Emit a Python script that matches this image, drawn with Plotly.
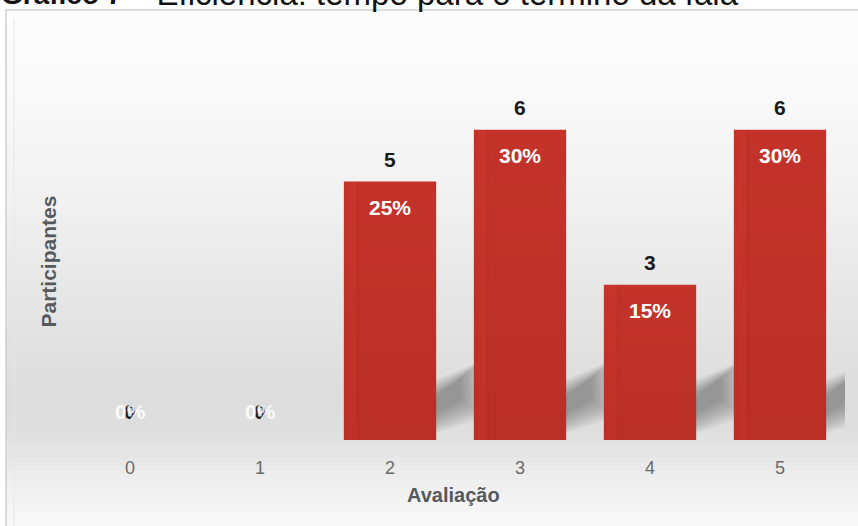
import plotly.graph_objects as go

# Avaliação (0-5) e número de participantes
avaliacao = [0, 1, 2, 3, 4, 5]
participantes = [0, 0, 5, 6, 3, 6]
percentuais = ["0%", "0%", "25%", "30%", "15%", "30%"]

W, H = 858, 526
ML, MR, MT, MB = 65, 13, 78, 86
PW, PH = W - ML - MR, H - MT - MB
Y_MAX = 7.0
BAR_W = 0.71
FONT = "Liberation Sans, Arial, sans-serif"


def px(x):
    return (x - ML) / PW


def py(y):
    return (H - MB - y) / PH


fig = go.Figure()
fig.add_trace(go.Bar(
    x=avaliacao, y=participantes, width=BAR_W,
    marker=dict(color="#c5342b", line=dict(width=0)),
    hoverinfo="skip",
))

shapes = []

# fundo em degradê do quadro
stops = [(10, 253), (100, 249), (200, 241), (300, 230), (390, 221),
         (430, 222), (470, 235), (526, 250)]
band = 4
y0 = 10
while y0 < H:
    y1 = min(y0 + band, H)
    ym = (y0 + y1) / 2
    g = stops[-1][1]
    for (a, ga), (b, gb) in zip(stops, stops[1:]):
        if a <= ym <= b:
            g = ga + (gb - ga) * (ym - a) / (b - a)
            break
    g = int(round(g))
    shapes.append(dict(type="rect", xref="paper", yref="paper", layer="below",
                       x0=px(6), x1=px(W + 2), y0=py(y1), y1=py(y0),
                       fillcolor=f"rgb({g},{g},{g})", line=dict(width=0)))
    y0 = y1

# contorno do quadro
shapes.append(dict(type="path", xref="paper", yref="paper", layer="below",
                   path=f"M {px(6)},{py(H + 2)} L {px(6)},{py(10)} L {px(W + 2)},{py(10)}",
                   line=dict(color="#cfcfcf", width=1.5)))
shapes.append(dict(type="line", xref="paper", yref="paper", layer="below",
                   x0=px(14), x1=px(14), y0=py(H), y1=py(18),
                   line=dict(color="#e6e6e6", width=1)))

# sombras projetadas atrás das barras (camadas sobrepostas para suavizar)
for x, v in zip(avaliacao, participantes):
    if v <= 0:
        continue
    xr = x + BAR_W / 2
    for k in range(12):
        s = -0.06 + k * 0.032
        path = (f"M {xr - 0.05},{0.15 + s} L {xr - 0.05},{1.05 - s} "
                f"L {xr + 0.34 - s * 0.5},{1.50 - s} L {xr + 0.34 - s * 0.5},{0.50 + s} Z")
        shapes.append(dict(type="path", xref="x", yref="y", layer="below",
                           path=path, fillcolor="rgba(70,70,70,0.05)",
                           line=dict(width=0)))

# leve degradê vertical sobre as barras
for x, v in zip(avaliacao, participantes):
    if v <= 0:
        continue
    n = 12
    for i in range(n):
        f0, f1 = i / n, (i + 1) / n
        shapes.append(dict(type="rect", xref="x", yref="y", layer="above",
                           x0=x - BAR_W / 2, x1=x + BAR_W / 2,
                           y0=v * f0, y1=v * f1,
                           fillcolor=f"rgba(120,20,15,{0.14 * (1 - (f0 + f1) / 2):.3f})",
                           line=dict(width=0)))
    shapes.append(dict(type="rect", xref="x", yref="y", layer="above",
                       x0=x - BAR_W / 2 + 0.03, x1=x - BAR_W / 2 + 0.10, y0=0, y1=v,
                       fillcolor="rgba(255,90,70,0.07)", line=dict(width=0)))
    shapes.append(dict(type="rect", xref="x", yref="y", layer="above",
                       x0=x - BAR_W / 2 + 0.10, x1=x - BAR_W / 2 + 0.115, y0=0, y1=v,
                       fillcolor="rgba(140,20,15,0.10)", line=dict(width=0)))

annotations = []
lbl_font = dict(family=FONT, size=21)
for x, v, p in zip(avaliacao, participantes, percentuais):
    if v > 0:
        annotations.append(dict(x=x, y=v, xref="x", yref="y", text=f"<b>{v}</b>",
                                showarrow=False, yshift=22,
                                font=dict(lbl_font, color="#1a1a1a")))
        annotations.append(dict(x=x, y=v, xref="x", yref="y", text=f"<b>{p}</b>",
                                showarrow=False, yshift=-26,
                                font=dict(lbl_font, color="#ffffff")))
    else:
        annotations.append(dict(x=x, y=v, xref="x", yref="y", text=f"<b>{v}</b>",
                                showarrow=False, yshift=29,
                                font=dict(lbl_font, color="#222222")))
        annotations.append(dict(x=x, y=v, xref="x", yref="y", text=f"<b>{p}</b>",
                                showarrow=False, yshift=29,
                                font=dict(lbl_font, color="rgba(255,255,255,0.85)")))

# títulos dos eixos
annotations.append(dict(x=px(453), y=py(508), xref="paper", yref="paper",
                        text="<b>Avaliação</b>", showarrow=False,
                        font=dict(family=FONT, size=20, color="#555a60")))
annotations.append(dict(x=px(34), y=py(262), xref="paper", yref="paper",
                        text="<b>Participantes</b>", showarrow=False, textangle=-90,
                        font=dict(family=FONT, size=21, color="#555a60")))

# título do gráfico (cortado na borda superior)
annotations.append(dict(x=px(-1), y=py(12), xref="paper", yref="paper",
                        xanchor="left", yanchor="bottom",
                        text="<b>Gráfico 7</b>", showarrow=False,
                        font=dict(family=FONT, size=28, color="#111111")))
annotations.append(dict(x=px(127), y=py(14), xref="paper", yref="paper",
                        xanchor="left", yanchor="bottom",
                        text="– Eficiência: tempo para o término da fala",
                        showarrow=False,
                        font=dict(family=FONT, size=33, color="#111111")))

fig.update_layout(
    width=W, height=H,
    margin=dict(l=ML, r=MR, t=MT, b=MB),
    paper_bgcolor="#ffffff", plot_bgcolor="rgba(0,0,0,0)",
    showlegend=False,
    shapes=shapes, annotations=annotations,
    xaxis=dict(range=[-0.5, 5.5], tickvals=avaliacao,
               ticktext=[str(a) for a in avaliacao],
               showgrid=False, zeroline=False, showline=False,
               ticks="outside", ticklen=11, tickcolor="rgba(0,0,0,0)",
               tickfont=dict(family=FONT, size=18, color="#6a6a6a")),
    yaxis=dict(range=[0, Y_MAX], showgrid=False, zeroline=False,
               showline=False, showticklabels=False),
)

fig.write_html("out.html")
